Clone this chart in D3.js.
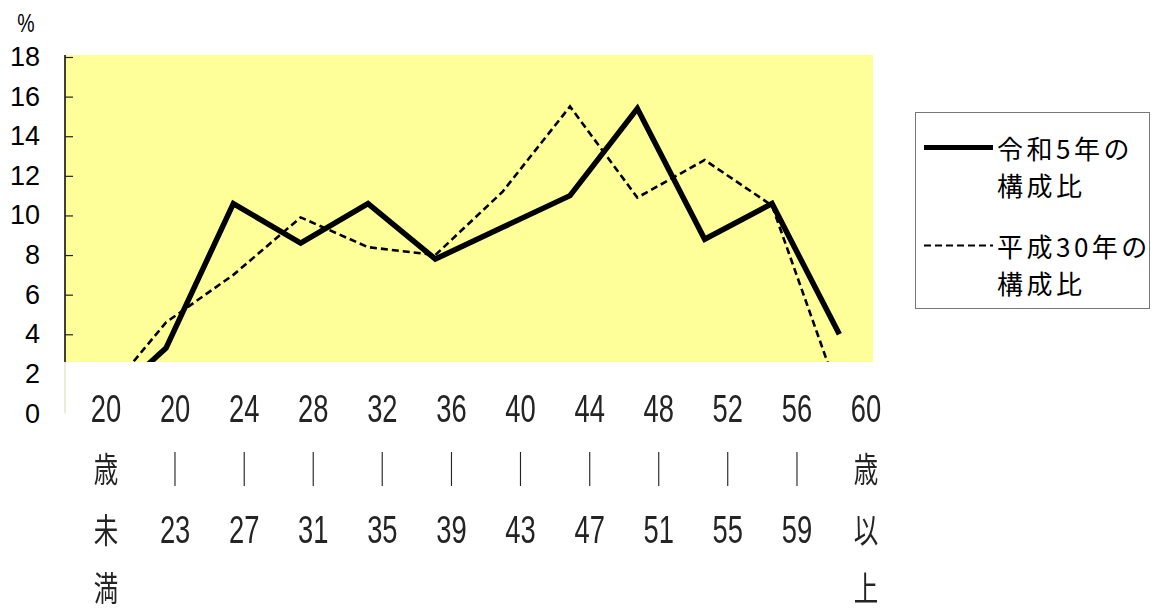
<!DOCTYPE html>
<html lang="ja">
<head>
<meta charset="utf-8">
<script src="https://cdn.jsdelivr.net/npm/d3@7"></script>
<style>
  html, body { margin: 0; padding: 0; background: #fff; }
  svg { display: block; }
</style>
</head>
<body>
<svg id="chart" width="1155" height="612"></svg>
<script>
// Age brackets, each written as stacked label rows
const categories = ["20歳未満", "20-23", "24-27", "28-31", "32-35", "36-39",
                    "40-43", "44-47", "48-51", "52-55", "56-59", "60歳以上"];
const labelRows = [
  ["20", "歳", "未", "満"],
  ["20", "｜", "23"], ["24", "｜", "27"], ["28", "｜", "31"], ["32", "｜", "35"],
  ["36", "｜", "39"], ["40", "｜", "43"], ["44", "｜", "47"], ["48", "｜", "51"],
  ["52", "｜", "55"], ["56", "｜", "59"],
  ["60", "歳", "以", "上"]
];

// Composition ratio (%) by age bracket
const seriesReiwa5 = [0.2, 3.3, 10.6, 8.6, 10.6, 7.8, 9.4, 11.0, 15.4, 8.8, 10.6, 4.0];
const seriesHeisei30 = [0.5, 4.6, 7.0, 9.9, 8.4, 8.0, 11.2, 15.5, 10.9, 12.8, 10.5, 0.9];

const yTicks = [0, 2, 4, 6, 8, 10, 12, 14, 16, 18];
const legendItems = [
  { lines: ["令和5年の", "構成比"], dash: null },
  { lines: ["平成30年の", "構成比"], dash: "7,4" }
];

const svg = d3.select("#chart");

const plotLeft = 65, plotRight = 873;
const y = d3.scaleLinear().domain([0, 18]).range([413.5, 57]);
const x = d3.scaleBand().domain(categories).range([plotLeft, plotRight]).padding(0);
const xc = c => x(c) + x.bandwidth() / 2;
const labelX = d3.scalePoint().domain(categories).range([106, 866]);

// Yellow plotting area
svg.append("rect")
  .attr("x", plotLeft).attr("y", y(18) - 2)
  .attr("width", plotRight - plotLeft).attr("height", y(0) - y(18) + 2)
  .attr("fill", "#ffff99");

// Y axis: line plus inward ticks, labels placed separately
const yAxis = d3.axisRight(y).tickValues(yTicks).tickSize(8).tickFormat("");
const gy = svg.append("g").attr("transform", `translate(${plotLeft},0)`).call(yAxis);
gy.select(".domain").attr("d", `M0,${y(18) - 2}V${y(0)}`).attr("stroke", "#000").attr("stroke-width", 1.5);
gy.selectAll(".tick line").attr("stroke", "#222").attr("stroke-width", 1.2);

svg.append("g").selectAll("text").data(yTicks).join("text")
  .attr("x", 40).attr("y", d => y(d))
  .attr("text-anchor", "end").attr("dominant-baseline", "central")
  .attr("font-family", "'Liberation Sans', Arial, sans-serif")
  .attr("font-size", 27).attr("fill", "#000")
  .text(d => d);

svg.append("text")
  .attr("transform", "translate(26,32) scale(0.78,1)")
  .attr("text-anchor", "middle")
  .attr("font-family", "'Liberation Sans', Arial, sans-serif")
  .attr("font-size", 25).attr("fill", "#000")
  .text("%");

// Series lines
const line = d3.line().x((d, i) => xc(categories[i])).y(d => y(d));
svg.append("path").datum(seriesHeisei30)
  .attr("d", line).attr("fill", "none")
  .attr("stroke", "#000").attr("stroke-width", 2.6)
  .attr("stroke-dasharray", "7,4");
svg.append("path").datum(seriesReiwa5)
  .attr("d", line).attr("fill", "none")
  .attr("stroke", "#000").attr("stroke-width", 5.5)
  .attr("stroke-linejoin", "miter");

// White band holding the age labels, laid over the lower plot
svg.append("rect")
  .attr("x", plotLeft - 1).attr("y", 362)
  .attr("width", plotRight - plotLeft + 8).attr("height", y(0) - 362 + 4)
  .attr("fill", "#fff");
svg.append("line")
  .attr("x1", plotLeft).attr("x2", plotLeft)
  .attr("y1", 362).attr("y2", y(0))
  .attr("stroke", "#e6e6cc").attr("stroke-width", 1.5);

// Stacked category labels
const rowBase = [422, 482, 543, 601];
const lab = svg.append("g").attr("fill", "#222").attr("opacity", 0.99);
categories.forEach((c, i) => {
  const g = lab.append("g").attr("transform", `translate(${labelX(c)},0) scale(0.72,1)`);
  labelRows[i].forEach((t, r) => {
    const digits = /^\d+$/.test(t);
    g.append("text")
      .attr("x", 0).attr("y", rowBase[r])
      .attr("text-anchor", "middle")
      .attr("font-family", digits ? "'Liberation Sans', Arial, sans-serif" : "'Noto Sans CJK JP', sans-serif")
      .attr("font-size", digits ? 38 : 34)
      .attr("font-weight", t === "｜" ? 700 : 400)
      .text(t);
  });
});

// Legend
const lg = svg.append("g");
lg.append("rect")
  .attr("x", 915.5).attr("y", 112.5).attr("width", 234).attr("height", 196)
  .attr("fill", "#fff").attr("stroke", "#777").attr("stroke-width", 1);
const legendTop = [147.5, 245.5];
legendItems.forEach((it, k) => {
  lg.append("line")
    .attr("x1", 924).attr("x2", 993)
    .attr("y1", legendTop[k]).attr("y2", legendTop[k])
    .attr("stroke", "#000")
    .attr("stroke-width", it.dash ? 2.2 : 5)
    .attr("stroke-dasharray", it.dash);
  it.lines.forEach((t, r) => {
    lg.append("text")
      .attr("x", 997).attr("y", legendTop[k] + 11 + r * 37)
      .attr("font-family", "'Noto Sans CJK JP', sans-serif")
      .attr("font-size", 26).attr("letter-spacing", 3.5)
      .attr("fill", "#000")
      .text(t);
  });
});
</script>
</body>
</html>
